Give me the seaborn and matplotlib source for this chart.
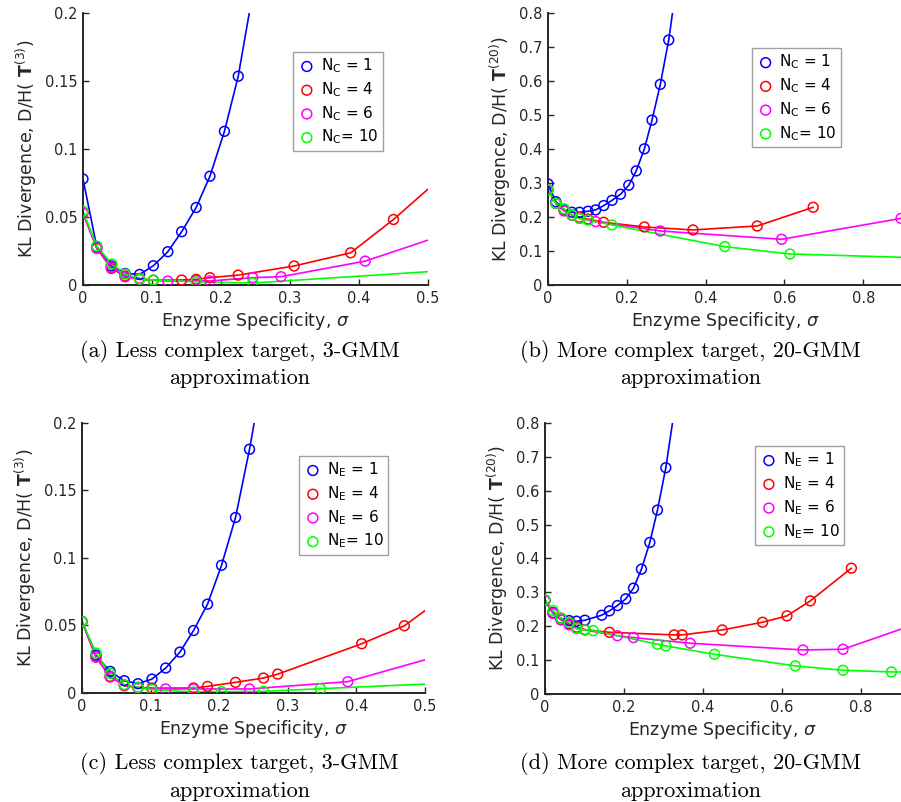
import matplotlib
matplotlib.use("Agg")
import matplotlib.pyplot as plt
import seaborn as sns
import pandas as pd

# ---------------- data ----------------
# Panel (a): N_C, 3-GMM
A_N1_X = [0, 0.020, 0.041, 0.061, 0.082, 0.102, 0.123, 0.143, 0.164, 0.184, 0.205, 0.225]
A_N1_Y = [0.078, 0.028, 0.014, 0.0085, 0.0078, 0.0142, 0.0245, 0.0392, 0.057, 0.080, 0.113, 0.1535]
A_N1_END = [0.241, 0.2]
A_N4_X = [0, 0.020, 0.041, 0.061, 0.082, 0.102, 0.143, 0.164, 0.184, 0.225, 0.306, 0.388, 0.450]
A_N4_Y = [0.053, 0.027, 0.0122, 0.0066, 0.0048, 0.0035, 0.0037, 0.0042, 0.0054, 0.0073, 0.0140, 0.0237, 0.0482]
A_N4_END = [0.5, 0.0705]
A_N6_X = [0, 0.020, 0.041, 0.061, 0.082, 0.123, 0.164, 0.184, 0.246, 0.287, 0.409]
A_N6_Y = [0.053, 0.027, 0.013, 0.006, 0.0042, 0.0029, 0.0032, 0.0030, 0.0054, 0.0061, 0.0176]
A_N6_END = [0.5, 0.033]
A_N10_X = [0, 0.020, 0.042, 0.061, 0.082, 0.102, 0.164, 0.246]
A_N10_Y = [0.0543, 0.0286, 0.0154, 0.0081, 0.0044, 0.0037, 0.0024, 0.0015]
A_N10_END = [0.5, 0.0098]

# Panel (b): N_C, 20-GMM
B_N1_X = [0, 0.020, 0.041, 0.061, 0.080, 0.1016, 0.121, 0.1414, 0.1625, 0.184, 0.205, 0.224, 0.2446, 0.264, 0.285, 0.3064]
B_N1_Y = [0.2974, 0.245, 0.222, 0.214, 0.214, 0.217, 0.221, 0.2336, 0.249, 0.267, 0.2935, 0.3357, 0.4005, 0.485, 0.590, 0.7205]
B_N1_END = [0.316, 0.8]
B_N4_X = [0, 0.020, 0.041, 0.061, 0.080, 0.1016, 0.1414, 0.2446, 0.368, 0.531, 0.673]
B_N4_Y = [0.280, 0.240, 0.219, 0.206, 0.199, 0.194, 0.1845, 0.1708, 0.162, 0.1737, 0.2287]
B_N4_END = None
B_N6_X = [0, 0.020, 0.041, 0.061, 0.080, 0.121, 0.285, 0.593, 0.896]
B_N6_Y = [0.280, 0.240, 0.218, 0.205, 0.196, 0.1865, 0.159, 0.1345, 0.196]
B_N6_END = [0.91, 0.2]
B_N10_X = [0, 0.020, 0.041, 0.061, 0.080, 0.1016, 0.1625, 0.4487, 0.614]
B_N10_Y = [0.2797, 0.2405, 0.2238, 0.206, 0.196, 0.191, 0.1767, 0.1129, 0.0913]
B_N10_END = [0.91, 0.0812]

# Panel (c): N_E, 3-GMM
C_N1_X = [0, 0.0204, 0.041, 0.0617, 0.0816, 0.102, 0.122, 0.1427, 0.1626, 0.183, 0.2034, 0.2238, 0.2442]
C_N1_Y = [0.053, 0.028, 0.016, 0.0091, 0.0069, 0.0103, 0.0185, 0.0303, 0.0463, 0.0658, 0.0946, 0.130, 0.1805]
C_N1_END = [0.251, 0.2]
C_N4_X = [0, 0.0204, 0.041, 0.0617, 0.0816, 0.102, 0.1626, 0.183, 0.2238, 0.2646, 0.2854, 0.4078, 0.4699]
C_N4_Y = [0.053, 0.0266, 0.0123, 0.0054, 0.0042, 0.0036, 0.0037, 0.0049, 0.0079, 0.0111, 0.014, 0.0365, 0.0498]
C_N4_END = [0.5, 0.061]
C_N6_X = [0, 0.0204, 0.041, 0.0617, 0.0816, 0.122, 0.1626, 0.2442, 0.3874]
C_N6_Y = [0.053, 0.0266, 0.0118, 0.006, 0.0037, 0.003, 0.003, 0.003, 0.0084]
C_N6_END = [0.5, 0.0246]
C_N10_X = [0, 0.0204, 0.041, 0.0617, 0.0816, 0.102, 0.1626, 0.2034, 0.2646, 0.3476]
C_N10_Y = [0.053, 0.0296, 0.0143, 0.0062, 0.0042, 0.0025, 0.0008, 0.001, 0.0012, 0.0032]
C_N10_END = [0.5, 0.0066]

# Panel (d): N_E, 20-GMM
D_N1_X = [0, 0.0203, 0.0405, 0.061, 0.080, 0.101, 0.1436, 0.163, 0.1833, 0.2044, 0.2239, 0.2441, 0.2653, 0.2847, 0.3058]
D_N1_Y = [0.276, 0.240, 0.2236, 0.2167, 0.2148, 0.2177, 0.2325, 0.2453, 0.261, 0.2808, 0.3123, 0.3685, 0.4473, 0.5429, 0.668]
D_N1_END = [0.3227, 0.8]
D_N4_X = [0, 0.0203, 0.0405, 0.061, 0.080, 0.101, 0.163, 0.3269, 0.3472, 0.4486, 0.5508, 0.6125, 0.6716, 0.7755]
D_N4_Y = [0.276, 0.238, 0.219, 0.207, 0.197, 0.190, 0.182, 0.1744, 0.1744, 0.189, 0.2118, 0.2305, 0.2749, 0.3714]
D_N4_END = None
D_N6_X = [0, 0.0203, 0.0405, 0.061, 0.080, 0.101, 0.1833, 0.2239, 0.3675, 0.653, 0.7544]
D_N6_Y = [0.276, 0.238, 0.219, 0.204, 0.193, 0.189, 0.172, 0.1665, 0.1498, 0.130, 0.132]
D_N6_END = [0.9, 0.191]
D_N10_X = [0, 0.0203, 0.0405, 0.061, 0.080, 0.101, 0.122, 0.2847, 0.3058, 0.429, 0.6336, 0.7544, 0.8769]
D_N10_Y = [0.278, 0.246, 0.2236, 0.211, 0.194, 0.189, 0.187, 0.1468, 0.1419, 0.1172, 0.0828, 0.070, 0.065]
D_N10_END = [0.91, 0.065]

N_VALUES = ["1", "4", "6", "10"]
COLORS = ["#0000ff", "#ff0000", "#ff00ff", "#00ff00"]

X_TICKS_3 = [0, 0.1, 0.2, 0.3, 0.4, 0.5]
X_TICKLABELS_3 = ["0", "0.1", "0.2", "0.3", "0.4", "0.5"]
Y_TICKS_3 = [0, 0.05, 0.1, 0.15, 0.2]
Y_TICKLABELS_3 = ["0", "0.05", "0.1", "0.15", "0.2"]
X_TICKS_20 = [0, 0.2, 0.4, 0.6, 0.8]
X_TICKLABELS_20 = ["0", "0.2", "0.4", "0.6", "0.8"]
Y_TICKS_20 = [0, 0.1, 0.2, 0.3, 0.4, 0.5, 0.6, 0.7, 0.8]
Y_TICKLABELS_20 = ["0", "0.1", "0.2", "0.3", "0.4", "0.5", "0.6", "0.7", "0.8"]

CAPTIONS = [
    "(a) Less complex target, 3-GMM\napproximation",
    "(b) More complex target, 20-GMM\napproximation",
    "(c) Less complex target, 3-GMM\napproximation",
    "(d) More complex target, 20-GMM\napproximation",
]

# ---------------- style ----------------
sns.set_style("ticks")
plt.rcParams["font.family"] = ["DejaVu Sans"]
plt.rcParams["mathtext.fontset"] = "dejavusans"
plt.rcParams["axes.unicode_minus"] = False

DARK = "#262626"

fig = plt.figure(figsize=(9.01, 8.02), dpi=100)

panels = [
    dict(pos=[0.0921, 0.6446, 0.3829, 0.3392], sub="C", gmm="3",
         series=[(A_N1_X, A_N1_Y, A_N1_END), (A_N4_X, A_N4_Y, A_N4_END),
                 (A_N6_X, A_N6_Y, A_N6_END), (A_N10_X, A_N10_Y, A_N10_END)],
         xlim=(0, 0.5), ylim=(0, 0.2), xt=(X_TICKS_3, X_TICKLABELS_3), yt=(Y_TICKS_3, Y_TICKLABELS_3),
         leg=(0.609, 0.857), cap=(0.266, 0.546)),
    dict(pos=[0.6082, 0.6446, 0.3936, 0.3392], sub="C", gmm="20",
         series=[(B_N1_X, B_N1_Y, B_N1_END), (B_N4_X, B_N4_Y, B_N4_END),
                 (B_N6_X, B_N6_Y, B_N6_END), (B_N10_X, B_N10_Y, B_N10_END)],
         xlim=(0, 0.9), ylim=(0, 0.8), xt=(X_TICKS_20, X_TICKLABELS_20), yt=(Y_TICKS_20, Y_TICKLABELS_20),
         leg=(0.575, 0.871), cap=(0.766, 0.546)),
    dict(pos=[0.0910, 0.1359, 0.3807, 0.3367], sub="E", gmm="3",
         series=[(C_N1_X, C_N1_Y, C_N1_END), (C_N4_X, C_N4_Y, C_N4_END),
                 (C_N6_X, C_N6_Y, C_N6_END), (C_N10_X, C_N10_Y, C_N10_END)],
         xlim=(0, 0.5), ylim=(0, 0.2), xt=(X_TICKS_3, X_TICKLABELS_3), yt=(Y_TICKS_3, Y_TICKLABELS_3),
         leg=(0.633, 0.878), cap=(0.266, 0.032)),
    dict(pos=[0.6049, 0.1347, 0.3946, 0.3379], sub="E", gmm="20",
         series=[(D_N1_X, D_N1_Y, D_N1_END), (D_N4_X, D_N4_Y, D_N4_END),
                 (D_N6_X, D_N6_Y, D_N6_END), (D_N10_X, D_N10_Y, D_N10_END)],
         xlim=(0, 0.9), ylim=(0, 0.8), xt=(X_TICKS_20, X_TICKLABELS_20), yt=(Y_TICKS_20, Y_TICKLABELS_20),
         leg=(0.591, 0.915), cap=(0.766, 0.032)),
]

for i, p in enumerate(panels):
    ax = fig.add_axes(p["pos"])
    for (xs, ys, end), col, n in zip(p["series"], COLORS, N_VALUES):
        lx = list(xs) + ([end[0]] if end else [])
        ly = list(ys) + ([end[1]] if end else [])
        line_df = pd.DataFrame({"x": lx, "y": ly})
        sns.lineplot(data=line_df, x="x", y="y", ax=ax, color=col, lw=1.2,
                     sort=False, estimator=None, legend=False, zorder=2)
        pts = pd.DataFrame({"x": xs, "y": ys})
        if n != "10":
            lab = r"$\mathregular{N_%s}$ = %s" % (p["sub"], n)
        else:
            lab = r"$\mathregular{N_%s}$= %s" % (p["sub"], n)
        sns.scatterplot(data=pts, x="x", y="y", ax=ax, marker="o", s=50,
                        facecolor="none", edgecolor=col, linewidth=1.1,
                        label=lab, zorder=3, clip_on=True)
    ax.set_xlim(*p["xlim"])
    ax.set_ylim(*p["ylim"])
    ax.set_xticks(p["xt"][0])
    ax.set_xticklabels(p["xt"][1])
    ax.set_yticks(p["yt"][0])
    ax.set_yticklabels(p["yt"][1])
    ax.tick_params(direction="in", length=4, width=1.0, colors=DARK, labelsize=10.5, pad=4)
    for s in ["top", "right"]:
        ax.spines[s].set_visible(False)
    for s in ["left", "bottom"]:
        ax.spines[s].set_color(DARK)
        ax.spines[s].set_linewidth(1.4)
    ax.set_xlabel(r"Enzyme Specificity, $\sigma$", fontsize=12.5, color=DARK, labelpad=3)
    ax.set_ylabel(r"KL Divergence, D/H( $\mathbf{T}^{\mathregular{(%s)}}$)" % p["gmm"],
                  fontsize=12.5, color=DARK, labelpad=4)
    leg = ax.legend(loc="upper left", bbox_to_anchor=p["leg"], fontsize=11,
                    frameon=True, fancybox=False, framealpha=1, edgecolor="#a0a0a0",
                    handletextpad=0.3, handlelength=1.2, labelspacing=0.33,
                    borderpad=0.3, borderaxespad=0)
    leg.get_frame().set_linewidth(1.0)
    for t in leg.get_texts():
        t.set_color("black")
    fig.text(p["cap"][0], p["cap"][1], CAPTIONS[i], ha="center", va="center",
             fontsize=16, family="cmr10", linespacing=1.38, color="black")

fig.savefig("out.png", dpi=100)
